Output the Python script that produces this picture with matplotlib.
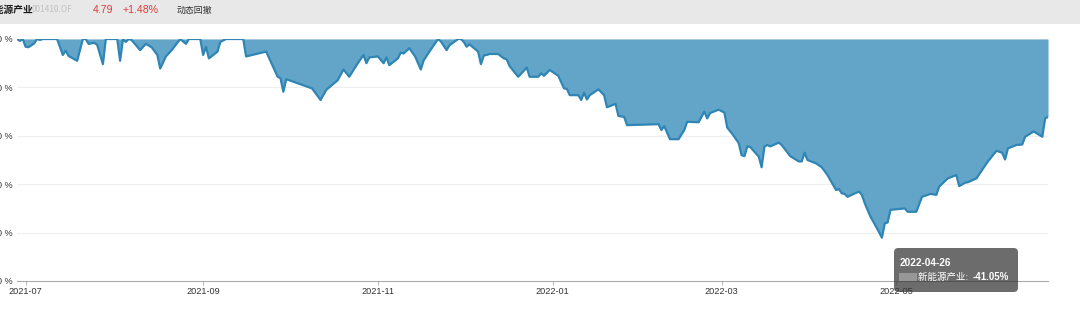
import matplotlib
matplotlib.use("Agg")
import matplotlib.pyplot as plt
import matplotlib.dates as mdates
from matplotlib.patches import Rectangle, FancyBboxPatch
import pandas as pd

plt.rcParams['font.family'] = ['Noto Sans CJK SC', 'DejaVu Sans']

# ---------------- data ----------------
dates = [
    "2021-06-28", "2021-06-29", "2021-06-30", "2021-07-01", "2021-07-02", "2021-07-04", "2021-07-05",
    "2021-07-06", "2021-07-07", "2021-07-12", "2021-07-14", "2021-07-15", "2021-07-16", "2021-07-19",
    "2021-07-21", "2021-07-22", "2021-07-23", "2021-07-25", "2021-07-26", "2021-07-28", "2021-07-29",
    "2021-08-02", "2021-08-03", "2021-08-04", "2021-08-05", "2021-08-06", "2021-08-07", "2021-08-10",
    "2021-08-12", "2021-08-14", "2021-08-16", "2021-08-17", "2021-08-19", "2021-08-21", "2021-08-24",
    "2021-08-26", "2021-08-27", "2021-08-31",
    "2021-09-01", "2021-09-02", "2021-09-03", "2021-09-06", "2021-09-07", "2021-09-08", "2021-09-09",
    "2021-09-15", "2021-09-16", "2021-09-23", "2021-09-27", "2021-09-28", "2021-09-29", "2021-09-30",
    "2021-10-09", "2021-10-12", "2021-10-14", "2021-10-18", "2021-10-20", "2021-10-22", "2021-10-25",
    "2021-10-27", "2021-10-28", "2021-10-29",
    "2021-11-01", "2021-11-03", "2021-11-04", "2021-11-05", "2021-11-08", "2021-11-09", "2021-11-10",
    "2021-11-12", "2021-11-14", "2021-11-16", "2021-11-17", "2021-11-19", "2021-11-22", "2021-11-23",
    "2021-11-25", "2021-11-26", "2021-11-29", "2021-11-30",
    "2021-12-01", "2021-12-02", "2021-12-03", "2021-12-06", "2021-12-07", "2021-12-08", "2021-12-09",
    "2021-12-10", "2021-12-13", "2021-12-15", "2021-12-16", "2021-12-17", "2021-12-20", "2021-12-23",
    "2021-12-24", "2021-12-27", "2021-12-28", "2021-12-29", "2021-12-31",
    "2022-01-03", "2022-01-05", "2022-01-06", "2022-01-07", "2022-01-10", "2022-01-11", "2022-01-12",
    "2022-01-13", "2022-01-14", "2022-01-17", "2022-01-19", "2022-01-20", "2022-01-23", "2022-01-24",
    "2022-01-26", "2022-01-27",
    "2022-02-07", "2022-02-08", "2022-02-09", "2022-02-11", "2022-02-14", "2022-02-16", "2022-02-17",
    "2022-02-21", "2022-02-23", "2022-02-24", "2022-02-25", "2022-02-28",
    "2022-03-02", "2022-03-03", "2022-03-05", "2022-03-07", "2022-03-08", "2022-03-09", "2022-03-10",
    "2022-03-11", "2022-03-14", "2022-03-15", "2022-03-16", "2022-03-17", "2022-03-18", "2022-03-21",
    "2022-03-22", "2022-03-25", "2022-03-28", "2022-03-29", "2022-03-30", "2022-03-31",
    "2022-04-03", "2022-04-05", "2022-04-07", "2022-04-10", "2022-04-11", "2022-04-12", "2022-04-13",
    "2022-04-14", "2022-04-18", "2022-04-19", "2022-04-20", "2022-04-22", "2022-04-24", "2022-04-26",
    "2022-04-27", "2022-04-28", "2022-04-29",
    "2022-05-04", "2022-05-05", "2022-05-08", "2022-05-10", "2022-05-13", "2022-05-15", "2022-05-16",
    "2022-05-19", "2022-05-22", "2022-05-23", "2022-05-25", "2022-05-26", "2022-05-29",
    "2022-06-02", "2022-06-05", "2022-06-07", "2022-06-08", "2022-06-09", "2022-06-12", "2022-06-14",
    "2022-06-15", "2022-06-18", "2022-06-21", "2022-06-22", "2022-06-23",
]

drawdown = [
    0, -0.4, 0, -1.6, -1.7, -0.9, 0, -0.2, 0, 0, -3.3, -2.4, -3.5, -4.5, 0, 0, -1.0, -0.8, -1.2, -5.2, 0,
    0, -4.5, 0, -0.6, 0, -0.2, -2.3, -1.0, -1.7, -3.3, -6.1, -3.6, -2.3, 0, -1.0, 0, 0,
    -3.3, -1.6, -4.0, -2.6, -0.6, -0.3, 0, 0, -3.6, -2.6, -7.8, -8.1, -10.9, -8.3,
    -10.2, -12.6, -10.5, -8.5, -6.3, -7.8, -5.0, -3.3, -5.0, -3.8,
    -3.6, -5.0, -3.8, -5.4, -4.0, -2.8, -3.0, -1.9, -3.6, -6.3, -4.4, -2.6, 0, -0.5, -2.3, -1.3, 0, 0,
    -0.6, -1.6, -1.1, -2.6, -5.2, -3.4, -3.3, -3.1, -3.1, -4.0, -4.2, -5.6, -7.8, -5.9, -7.8, -7.8,
    -7.1, -7.6, -6.4,
    -7.6, -10.2, -10.3, -11.6, -11.6, -12.6, -11.1, -12.5, -11.6, -10.4, -11.6, -14.1, -13.4, -15.9,
    -16.1, -17.8,
    -17.6, -18.8, -18.0, -20.7, -20.7, -18.8, -17.1, -17.2, -15.0, -16.4, -15.3, -14.6,
    -15.2, -18.3, -19.8, -21.5, -24.0, -24.2, -22.2, -22.3, -24.3, -26.5, -22.2, -21.9, -22.2, -21.4,
    -21.9, -24.2, -25.3, -25.3, -23.5, -25.0,
    -25.7, -26.5, -28.1, -31.2, -31.0, -31.9, -32.0, -32.6, -31.5, -32.2, -33.9, -36.7, -38.8, -41.05,
    -38.1, -37.9, -35.3,
    -35.0, -35.7, -35.7, -32.6, -32.0, -32.2, -30.5, -28.8, -28.1, -30.4, -29.7, -29.6, -28.8,
    -25.3, -23.1, -23.5, -24.9, -22.6, -21.9, -21.8, -20.2, -19.1, -20.2, -16.4, -16.1,
]

y_ticks = [0, -10, -20, -30, -40, -50]
y_tick_labels = ["0 %", "-10 %", "-20 %", "-30 %", "-40 %", "-50 %"]
x_tick_dates = ["2021-07-01", "2021-09-01", "2021-11-01", "2022-01-01", "2022-03-01", "2022-05-01"]

fund_name = "新能源产业"
fund_code = "001410.OF"
nav_value = "4.79"
nav_change = "+1.48%"
chart_title = "动态回撤"
tip_date = "2022-04-26"
tip_value = "-41.05%"

# ---------------- figure ----------------
W, H = 1080, 319
fig = plt.figure(figsize=(W / 100, H / 100), dpi=100)
fig.patch.set_facecolor("white")

def fx(px):
    return px / W

def fy(py):
    return 1 - py / H

# header bar
fig.patches.append(Rectangle((0, fy(24)), 1, 24 / H, transform=fig.transFigure,
                             facecolor="#e8e8e8", edgecolor="none", zorder=0))
fig.text(fx(-15), fy(10), fund_name, fontsize=7.0, fontweight="bold", color="#1a1a1a",
         va="center", ha="left")
fig.text(fx(32), fy(10), fund_code, fontsize=6.0, color="#b0b0b0", va="center", ha="left", alpha=0.7)
fig.text(fx(93), fy(10), nav_value, fontsize=7.6, color="#e03b3b", va="center", ha="left",
         family=["Liberation Sans", "DejaVu Sans"])
fig.text(fx(123), fy(10), nav_change, fontsize=7.6, color="#e03b3b", va="center", ha="left",
         family=["Liberation Sans", "DejaVu Sans"])
fig.text(fx(177), fy(10), chart_title, fontsize=6.4, color="#333333", va="center", ha="left")

ax = fig.add_axes([fx(17), 1 - 281 / H, (1048 - 17) / W, (281 - 39) / H])
x = pd.to_datetime(dates)
ax.fill_between(x, drawdown, 0, color="#63a5c9", linewidth=0, zorder=2)
ax.plot(x, drawdown, color="#2f86b5", linewidth=1.6, zorder=3, solid_joinstyle="round")

ax.set_xlim(x[0], x[-1])
ax.set_ylim(-50, 0)
ax.set_yticks(y_ticks)
ax.set_yticklabels(y_tick_labels)
ax.set_xticks(pd.to_datetime(x_tick_dates))
ax.xaxis.set_major_formatter(mdates.DateFormatter("%Y-%m"))

ax.grid(axis="y", color="#eeeeee", linewidth=0.8, zorder=1)
ax.set_axisbelow(True)
for s in ["top", "right", "left"]:
    ax.spines[s].set_visible(False)
ax.spines["bottom"].set_color("#aaaaaa")
ax.spines["bottom"].set_linewidth(0.8)
ax.tick_params(axis="y", length=0, pad=3.5, labelsize=6.5, labelcolor="#333333")
ax.tick_params(axis="x", length=3, width=0.6, color="#aaaaaa", pad=1.5, labelsize=6.6,
               labelcolor="#333333")
for lab in ax.get_yticklabels():
    lab.set_fontfamily(["Liberation Sans", "DejaVu Sans"])
for lab in ax.get_xticklabels():
    lab.set_fontfamily(["Liberation Sans", "DejaVu Sans"])

# tooltip
tip = FancyBboxPatch((fx(894), fy(292)), (1018 - 894) / W, (292 - 248) / H,
                     boxstyle="round,pad=0,rounding_size=0.004", transform=fig.transFigure,
                     facecolor=(0.2, 0.2, 0.2, 0.72), edgecolor="none", zorder=10,
                     mutation_aspect=W / H)
fig.patches.append(tip)
fig.text(fx(900), fy(263), tip_date, fontsize=7.2, fontweight="bold", color="white",
         va="center", ha="left", zorder=11, family=["Liberation Sans", "DejaVu Sans"])
fig.patches.append(Rectangle((fx(899), fy(281)), 18 / W, 8 / H, transform=fig.transFigure,
                             facecolor=(0.8, 0.8, 0.8, 0.45), edgecolor="none", zorder=11))
fig.text(fx(918), fy(277), fund_name + ": ", fontsize=6.8, color="white",
         va="center", ha="left", zorder=11)
fig.text(fx(973), fy(277), tip_value, fontsize=7.0, fontweight="bold", color="white",
         va="center", ha="left", zorder=11, family=["Liberation Sans", "DejaVu Sans"])

fig.savefig("out.png", dpi=100)
